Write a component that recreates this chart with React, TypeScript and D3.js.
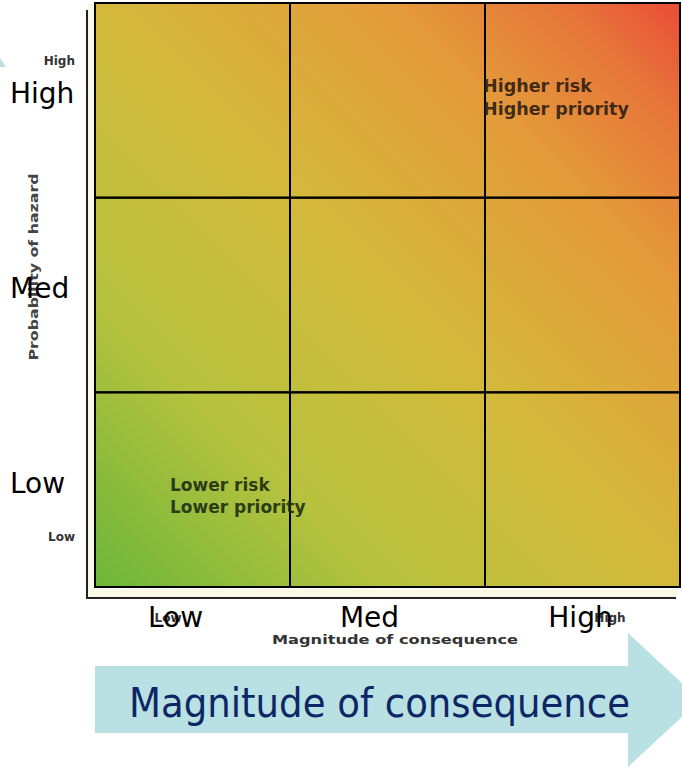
import React from "react";
import * as d3 from "d3";

// ---- data ----
const levels = ["Low", "Med", "High"];
const xLevelLabels = ["Low", "Med", "High"];
const yLevelLabels = ["Low", "Med", "High"];
const smallYLabels = ["Low", "High"];
const smallXLabels = ["Low", "High"];
const higherNote = ["Higher risk", "Higher priority"];
const lowerNote = ["Lower risk", "Lower priority"];
const yAxisTitle = "Probability of hazard";
const xAxisTitle = "Magnitude of consequence";
const arrowTitle = "Magnitude of consequence";
const gradientStops = [
  { offset: 0, color: "#6cb63a" },
  { offset: 0.25, color: "#b6c23e" },
  { offset: 0.5, color: "#d3b93b" },
  { offset: 0.75, color: "#e39b3a" },
  { offset: 0.9, color: "#e7753a" },
  { offset: 1, color: "#ea4b37" },
];

const W = 682;
const H = 769;
const box = { left: 95, right: 680, top: 3, bottom: 587 };

export default function App() {
  const x = d3.scaleBand<string>().domain(levels).range([box.left, box.right]);
  const y = d3.scaleBand<string>().domain(levels).range([box.bottom, box.top]);
  const bw = x.bandwidth();
  const bh = y.bandwidth();
  const font = "'DejaVu Sans', Verdana, sans-serif";
  const xNudge = [-17, -18, -2];

  const arrowPath = d3.path();
  arrowPath.moveTo(95, 666);
  arrowPath.lineTo(628, 666);
  arrowPath.lineTo(628, 633);
  arrowPath.lineTo(700, 700);
  arrowPath.lineTo(628, 767);
  arrowPath.lineTo(628, 733);
  arrowPath.lineTo(95, 733);
  arrowPath.closePath();

  return (
    <svg
      width={W}
      height={H}
      style={{ position: "absolute", left: 0, top: 0, background: "#fff" }}
      fontFamily={font}
    >
      <defs>
        <linearGradient id="risk" x1="0" y1="1" x2="1" y2="0">
          {gradientStops.map((s) => (
            <stop key={s.offset} offset={s.offset} stopColor={s.color} />
          ))}
        </linearGradient>
      </defs>

      {/* partial upward arrow at top-left edge */}
      <polygon points="0,58 6,67 0,67" fill="#b9e0e3" />

      {/* axis lines */}
      <line x1={87} y1={10} x2={87} y2={598} stroke="#222" strokeWidth={2} />
      <line x1={86} y1={598} x2={676} y2={598} stroke="#222" strokeWidth={2} />
      <rect x={88} y={4} width={6} height={592} fill="#fbf9e6" />
      <rect x={88} y={589} width={590} height={8} fill="#fbf9e6" />

      {/* gradient box */}
      <rect
        x={box.left}
        y={box.top}
        width={box.right - box.left}
        height={box.bottom - box.top}
        fill="url(#risk)"
      />
      {levels.map((lv) =>
        levels.map((lh) => (
          <rect
            key={lv + lh}
            x={x(lv)}
            y={y(lh)}
            width={bw}
            height={bh}
            fill="none"
            stroke="#000"
            strokeWidth={2}
          />
        ))
      )}

      {/* notes */}
      {higherNote.map((t, i) => (
        <text
          key={t}
          x={(x("High") as number) - 2}
          y={(y("High") as number) + 89 + i * 23}
          fontSize={17.5}
          fontWeight="bold"
          fill="#2b1c12"
          fillOpacity={0.9}
        >
          {t}
        </text>
      ))}
      {lowerNote.map((t, i) => (
        <text
          key={t}
          x={(x("Low") as number) + 75}
          y={(y("Low") as number) + 99 + i * 22}
          fontSize={17}
          fontWeight="bold"
          fill="#1a2a10"
          fillOpacity={0.9}
        >
          {t}
        </text>
      ))}

      {/* small original axis labels */}
      {smallYLabels.map((t) => (
        <text
          key={t}
          x={75}
          y={t === "High" ? 65 : 541}
          textAnchor="end"
          fontSize={12}
          fontWeight="bold"
          fill="#333"
        >
          {t}
        </text>
      ))}
      <text
        transform={`translate(38,267) rotate(-90)`}
        textAnchor="middle"
        fontSize={13}
        fontWeight="bold"
        fill="#444"
        textLength={187}
        lengthAdjust="spacingAndGlyphs"
      >
        {yAxisTitle}
      </text>
      {smallXLabels.map((t) => (
        <text
          key={t}
          x={t === "Low" ? 168 : 610}
          y={622}
          textAnchor="middle"
          fontSize={12}
          fontWeight="bold"
          fill="#333"
        >
          {t}
        </text>
      ))}
      <text
        x={272}
        y={644}
        fontSize={13}
        fontWeight="bold"
        fill="#333"
        textLength={246}
        lengthAdjust="spacingAndGlyphs"
      >
        {xAxisTitle}
      </text>

      {/* big overlay labels */}
      {yLevelLabels.map((t) => (
        <text
          key={t}
          x={10}
          y={(y(t) as number) + bh / 2 + 3}
          fontSize={28}
          fill="#000"
        >
          {t}
        </text>
      ))}
      {xLevelLabels.map((t, i) => (
        <text
          key={t}
          x={(x(t) as number) + bw / 2 + xNudge[i]}
          y={627}
          textAnchor="middle"
          fontSize={28}
          fill="#000"
        >
          {t}
        </text>
      ))}

      {/* big arrow */}
      <path d={arrowPath.toString()} fill="#b9e0e3" />
      <text
        x={129}
        y={717}
        fontSize={40}
        fill="#0d2766"
        textLength={501}
        lengthAdjust="spacingAndGlyphs"
      >
        {arrowTitle}
      </text>
    </svg>
  );
}
